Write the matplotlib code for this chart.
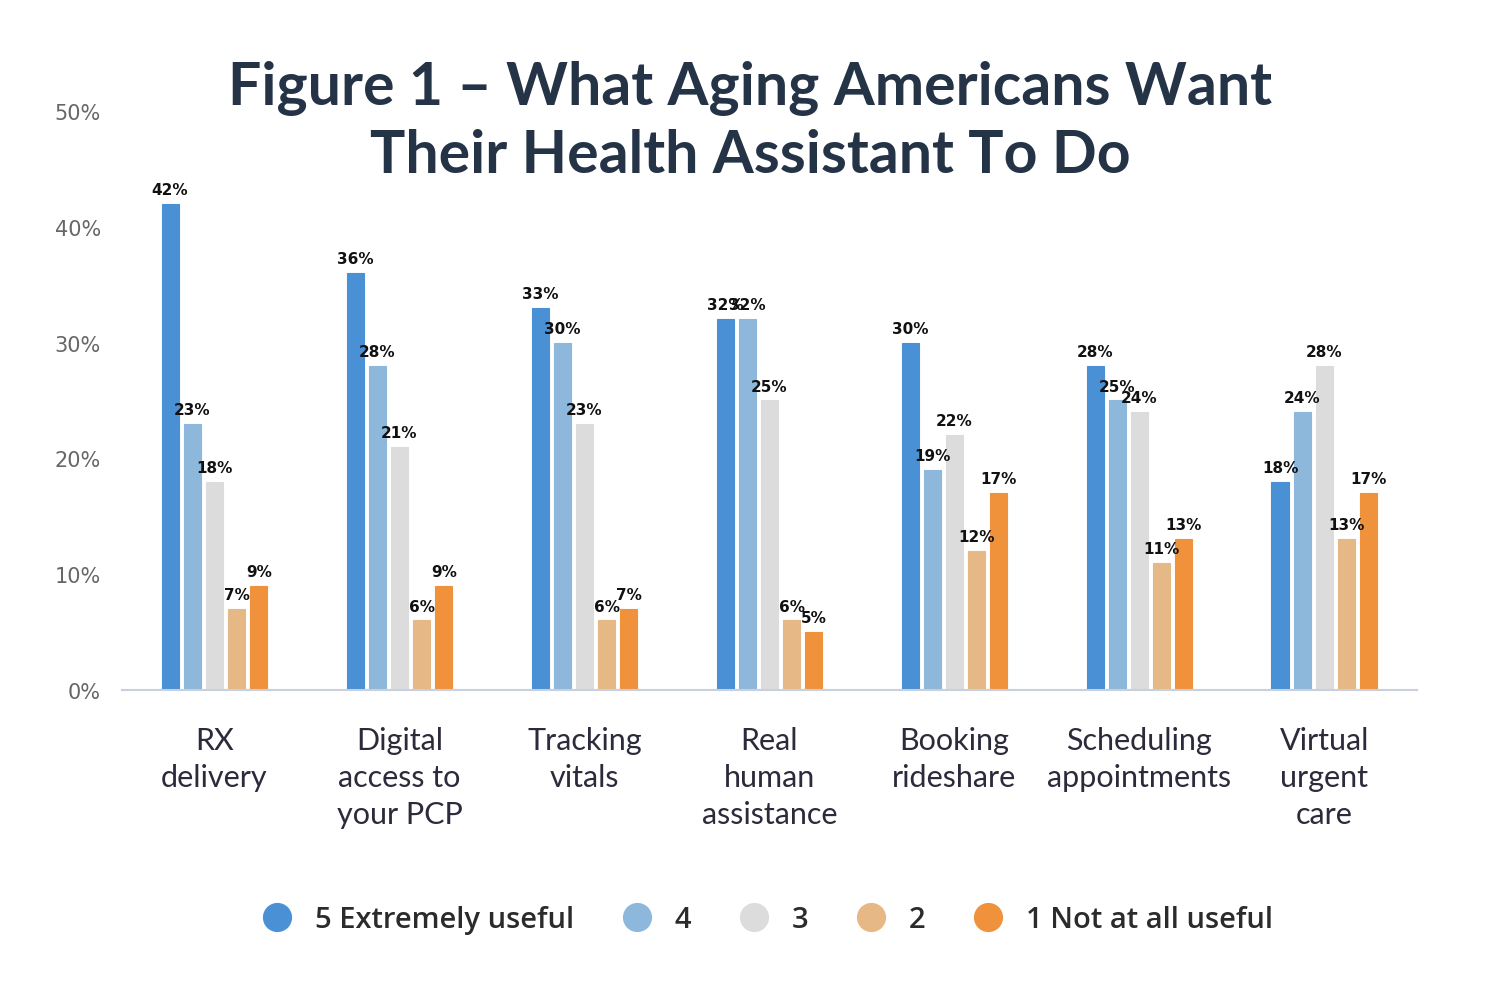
import numpy as np
import matplotlib
matplotlib.use("Agg")
import matplotlib.pyplot as plt
from matplotlib.lines import Line2D

# ------------------------------------------------------------
# Datos
# ------------------------------------------------------------
categories = ["RX\ndelivery", "Digital\naccess to\nyour PCP", "Tracking\nvitals",
              "Real\nhuman\nassistance", "Booking\nrideshare", "Scheduling\nappointments",
              "Virtual\nurgent\ncare"]
series_names = ["5 Extremely useful", "4", "3", "2", "1 Not at all useful"]
s5 = [42, 36, 33, 32, 30, 28, 18]
s4 = [23, 28, 30, 32, 19, 25, 24]
s3 = [18, 21, 23, 25, 22, 24, 28]
s2 = [7, 6, 6, 6, 12, 11, 13]
s1 = [9, 9, 7, 5, 17, 13, 17]
yticks = [0, 10, 20, 30, 40, 50]

colors = ["#4a90d4", "#8db8db", "#dcdcdc", "#e6b885", "#f0923c"]

# ------------------------------------------------------------
# Figura
# ------------------------------------------------------------
fig = plt.figure(figsize=(15, 10.04), dpi=100)
ax = fig.add_axes([0.0813, 0.3118, 0.8633, 0.5767])

x = np.arange(len(categories))
step = 0.12
width = 0.092

for i, (vals, col) in enumerate(zip([s5, s4, s3, s2, s1], colors)):
    pos = x + (i - 2) * step
    ax.bar(pos, vals, width=width, color=col, edgecolor=col, linewidth=0.8, zorder=2)
    for px, v in zip(pos, vals):
        ax.annotate(f"{v}%", (px, v), xytext=(0, 5), textcoords="offset points",
                    ha="center", va="bottom", fontsize=11, fontweight="bold",
                    family="DejaVu Sans", color="#111111", zorder=3)

ax.set_xlim(-0.5, len(categories) - 0.5)
ax.set_ylim(0, 50)
ax.set_yticks(yticks)
ax.set_yticklabels([f"{t}%" for t in yticks], fontsize=15, color="#666666", family="DejaVu Sans")
ax.set_xticks(x)
ax.set_xticklabels(categories, fontsize=22, color="#2b2b3b", family="Lato",
                   linespacing=1.4, va="top")
ax.tick_params(axis="x", length=0, pad=26)
ax.tick_params(axis="y", length=0, pad=15)

for s in ["top", "right", "left"]:
    ax.spines[s].set_visible(False)
ax.spines["bottom"].set_color("#c8d0e0")
ax.spines["bottom"].set_linewidth(1.5)
ax.spines["bottom"].set_zorder(4)

fig.text(0.5, 0.912, "Figure 1 – What Aging Americans Want", ha="center", va="center",
         fontsize=42.5, fontweight="bold", color="#253347", family="Lato")
fig.text(0.5, 0.845, "Their Health Assistant To Do", ha="center", va="center",
         fontsize=42.5, fontweight="bold", color="#253347", family="Lato")

handles = [Line2D([0], [0], marker="o", linestyle="none", markersize=20,
                  markerfacecolor=c, markeredgecolor=c) for c in colors]
fig.legend(handles, series_names, loc="center", bbox_to_anchor=(0.507, 0.083), ncol=5,
           frameon=False, handletextpad=0.3, columnspacing=1.15,
           prop={"family": "Open Sans", "size": 21, "weight": "semibold"},
           labelcolor="#2b2b2b")

fig.savefig("out.png", dpi=100, facecolor="white")
